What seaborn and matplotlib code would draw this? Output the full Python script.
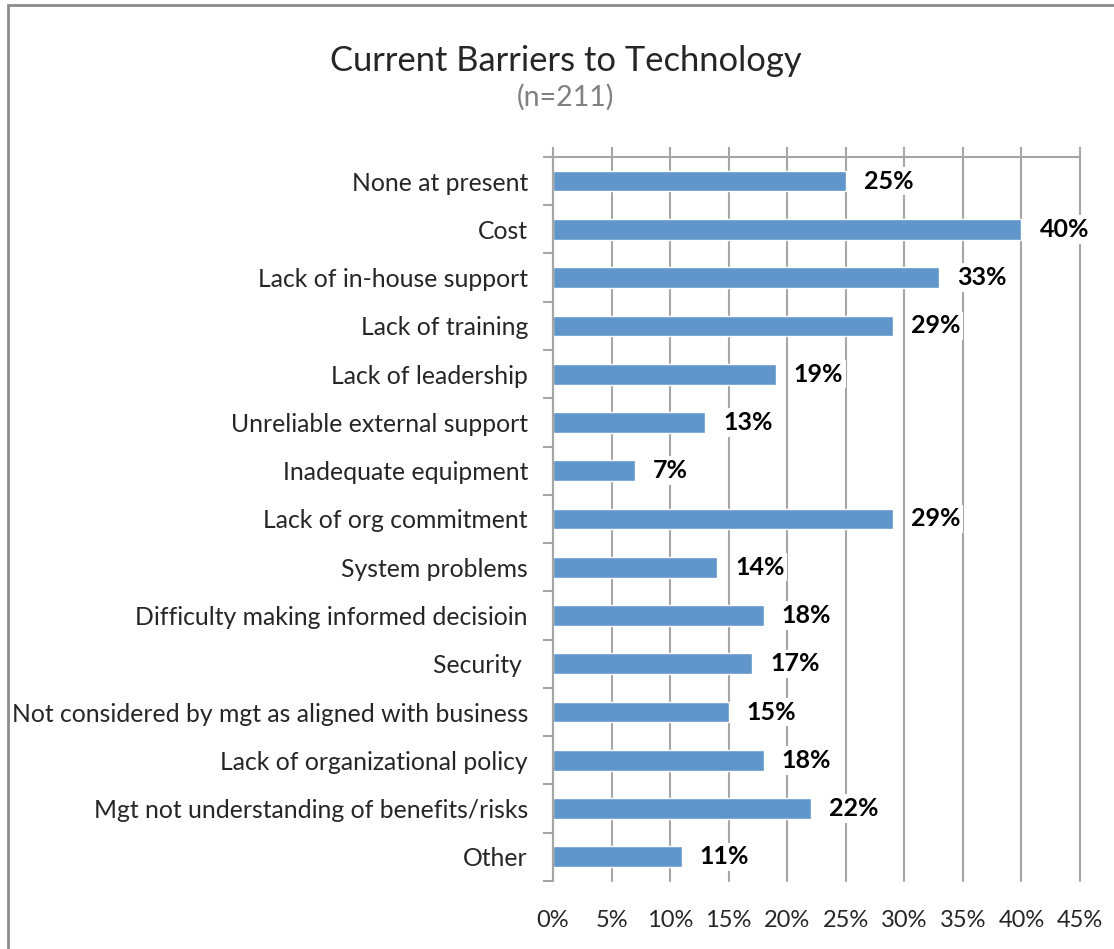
import numpy as np
import pandas as pd
import matplotlib
matplotlib.use('Agg')
import matplotlib.pyplot as plt
import seaborn as sns
from matplotlib.patches import Rectangle

# data
barriers = ['None at present', 'Cost', 'Lack of in-house support', 'Lack of training',
            'Lack of leadership', 'Unreliable external support', 'Inadequate equipment',
            'Lack of org commitment', 'System problems', 'Difficulty making informed decisioin',
            'Security ', 'Not considered by mgt as aligned with business',
            'Lack of organizational policy', 'Mgt not understanding of benefits/risks', 'Other']
pct = [25, 40, 33, 29, 19, 13, 7, 29, 14, 18, 17, 15, 18, 22, 11]
x_ticks = [0, 5, 10, 15, 20, 25, 30, 35, 40, 45]

bar_color = '#6096CA'
grid_color = '#A6A6A6'

sns.set_style('white')
plt.rcParams['font.family'] = ['Lato', 'DejaVu Sans']

df = pd.DataFrame({'barrier': barriers, 'pct': pct})

fig = plt.figure(figsize=(11.14, 9.49), dpi=100)
ax = fig.add_axes([0.4964, 0.0717, 0.4731, 0.7629])

sns.barplot(data=df, x='pct', y='barrier', order=barriers, color=bar_color,
            width=0.43, saturation=1, ax=ax, zorder=2)

ax.set_xlim(0, 45)
ax.set_ylim(len(barriers) - 0.5, -0.5)
ax.set_xticks(x_ticks)
ax.set_xticklabels(['%d%%' % t for t in x_ticks])
ax.set_xlabel('')
ax.set_ylabel('')

# vertical gridlines
ax.set_axisbelow(True)
for t in x_ticks:
    ax.axvline(t, color=grid_color, lw=1.5, zorder=0, clip_on=False)

# spines: top line with outward ticks, left line with boundary ticks
for side in ['right', 'bottom']:
    ax.spines[side].set_visible(False)
for side in ['top', 'left']:
    ax.spines[side].set_color(grid_color)
    ax.spines[side].set_linewidth(1.5)

ax.tick_params(axis='x', top=True, bottom=False, labeltop=False, labelbottom=True,
               direction='out', length=7, width=1.5, color=grid_color,
               labelsize=17, pad=14)
ax.set_yticks(np.arange(-0.5, len(barriers), 1), minor=True)
ax.tick_params(axis='y', which='major', length=0, labelsize=17.8, pad=18)
ax.tick_params(axis='y', which='minor', left=True, direction='out', length=7,
               width=1.5, color=grid_color)

# data labels
for i, v in enumerate(pct):
    ax.annotate('%d%%' % v, xy=(v, i), xytext=(13, 0), textcoords='offset points',
                ha='left', va='center', fontsize=18, fontweight='bold', color='black',
                bbox=dict(fc='white', ec='none', pad=2), zorder=3)

# titles
fig.text(0.508, 0.936, 'Current Barriers to Technology', ha='center', va='center', fontsize=24.8)
fig.text(0.508, 0.897, '(n=211)', ha='center', va='center', fontsize=20.5, color='#808080')

# outer chart frame
fig.patches.append(Rectangle((8 / 1114, -0.05), 1.2, 1 - 5 / 949 + 0.05, transform=fig.transFigure,
                             fill=False, ec='#8C8C8C', lw=2))

fig.savefig('out.png', dpi=100)
